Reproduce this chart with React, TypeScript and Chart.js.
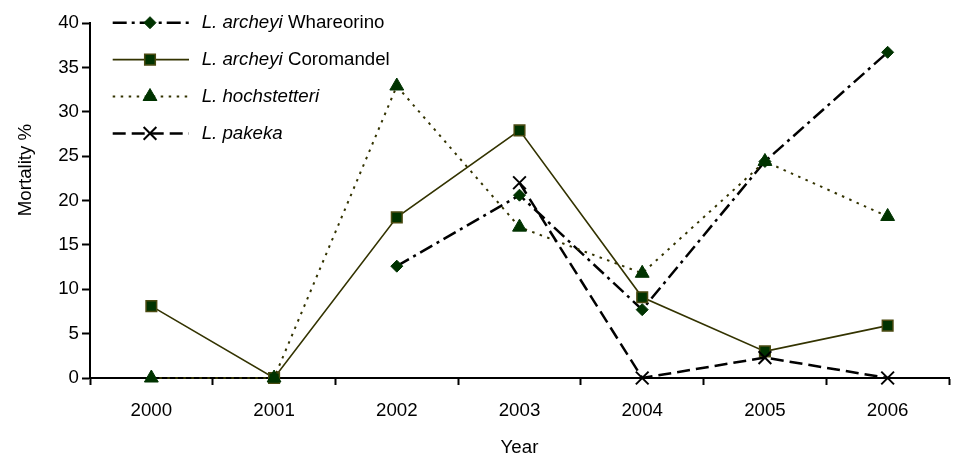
import React, { useEffect, useRef } from 'react';
import { Chart, registerables } from 'chart.js';

Chart.register(...registerables);

// ---------- data ----------
const years: string[] = ['2000', '2001', '2002', '2003', '2004', '2005', '2006'];
const whareorino: (number | null)[] = [null, null, 12.6, 20.6, 7.7, 24.4, 36.7];
const coromandel: (number | null)[] = [8.1, 0, 18.1, 27.9, 9.1, 3.0, 5.9];
const hochstetteri: (number | null)[] = [0, 0, 32.9, 17.0, 11.8, 24.4, 18.2];
const pakeka: (number | null)[] = [null, null, null, 22.0, 0, 2.3, 0];
const yTickValues: number[] = [0, 5, 10, 15, 20, 25, 30, 35, 40];
const italicNames: string[] = ['L. archeyi', 'L. archeyi', 'L. hochstetteri', 'L. pakeka'];
const plainNames: string[] = [' Whareorino', ' Coromandel', '', ''];
const yTitle = 'Mortality %';
const xTitle = 'Year';

const FONT = '"Liberation Sans", Arial, Helvetica, sans-serif';
const FS = 18.7;
const GREEN = '#003300';
const OLIVE = '#333300';

type Style = {
  line: string;
  width: number;
  dash: number[];
  point: string;
  radius: number;
  fill: string;
  stroke: string;
  pointBorder: number;
};

const styles: Style[] = [
  { line: '#000000', width: 2.5, dash: [14, 5, 3, 5], point: 'rectRot', radius: 6, fill: GREEN, stroke: GREEN, pointBorder: 1 },
  { line: OLIVE, width: 1.6, dash: [], point: 'rect', radius: 7.5, fill: GREEN, stroke: '#4a4a10', pointBorder: 1.5 },
  { line: OLIVE, width: 2, dash: [2.5, 5.5], point: 'triangle', radius: 8, fill: GREEN, stroke: GREEN, pointBorder: 1 },
  { line: '#000000', width: 2.5, dash: [13, 6], point: 'crossRot', radius: 9, fill: '#000000', stroke: '#000000', pointBorder: 2 },
];

function drawMarker(ctx: CanvasRenderingContext2D, s: Style, x: number, y: number) {
  ctx.save();
  ctx.setLineDash([]);
  ctx.fillStyle = s.fill;
  ctx.strokeStyle = s.stroke;
  ctx.lineWidth = s.pointBorder;
  const r = s.radius;
  ctx.beginPath();
  if (s.point === 'rectRot') {
    ctx.moveTo(x, y - r);
    ctx.lineTo(x + r, y);
    ctx.lineTo(x, y + r);
    ctx.lineTo(x - r, y);
    ctx.closePath();
    ctx.fill();
    ctx.stroke();
  } else if (s.point === 'rect') {
    const h = r * Math.SQRT1_2;
    ctx.rect(x - h, y - h, 2 * h, 2 * h);
    ctx.fill();
    ctx.stroke();
  } else if (s.point === 'triangle') {
    for (let k = 0; k < 3; k++) {
      const a = (k * 2 * Math.PI) / 3;
      const px = x + Math.sin(a) * r;
      const py = y - Math.cos(a) * r;
      if (k === 0) ctx.moveTo(px, py);
      else ctx.lineTo(px, py);
    }
    ctx.closePath();
    ctx.fill();
    ctx.stroke();
  } else if (s.point === 'crossRot') {
    const d = r * Math.SQRT1_2;
    ctx.moveTo(x - d, y - d);
    ctx.lineTo(x + d, y + d);
    ctx.moveTo(x - d, y + d);
    ctx.lineTo(x + d, y - d);
    ctx.stroke();
  }
  ctx.restore();
}

const overlayPlugin = {
  id: 'overlay',
  afterDraw(chart: any) {
    const ctx: CanvasRenderingContext2D = chart.ctx;
    const area = chart.chartArea;
    ctx.save();
    ctx.fillStyle = '#000000';
    ctx.font = `${FS}px ${FONT}`;
    ctx.textBaseline = 'middle';
    ctx.textAlign = 'center';
    // y title
    ctx.save();
    ctx.translate(17.7, 162);
    ctx.rotate(-Math.PI / 2);
    ctx.fillText(yTitle, 0, 0);
    ctx.restore();
    // x title
    ctx.fillText(xTitle, (area.left + area.right) / 2, 440);

    // legend
    const top = area.top - 0.3;
    const gap = 36.9;
    const lx0 = area.left + 22.7;
    const lx1 = area.left + 99;
    const mx = area.left + 60;
    const tx = area.left + 111.7;
    styles.forEach((s, i) => {
      const y = top + i * gap;
      ctx.save();
      ctx.strokeStyle = s.line;
      ctx.lineWidth = s.width;
      ctx.setLineDash(s.dash);
      ctx.beginPath();
      ctx.moveTo(lx0, y);
      ctx.lineTo(lx1, y);
      ctx.stroke();
      ctx.restore();
      drawMarker(ctx, s, mx, y);
      ctx.textAlign = 'left';
      ctx.font = `italic ${FS}px ${FONT}`;
      ctx.fillText(italicNames[i], tx, y);
      const w = ctx.measureText(italicNames[i]).width;
      ctx.font = `${FS}px ${FONT}`;
      ctx.fillText(plainNames[i], tx + w, y);
    });
    ctx.restore();
  },
};

export default function App() {
  const canvasRef = useRef<HTMLCanvasElement | null>(null);

  useEffect(() => {
    if (!canvasRef.current) return;
    const seriesData = [whareorino, coromandel, hochstetteri, pakeka];
    const labels = italicNames.map((n, i) => n + plainNames[i]);
    const datasets = styles.map((s, i) => ({
      label: labels[i],
      data: seriesData[i],
      borderColor: s.line,
      borderWidth: s.width,
      borderDash: s.dash,
      pointStyle: s.point,
      pointRadius: s.radius,
      pointBackgroundColor: s.fill,
      pointBorderColor: s.stroke,
      pointBorderWidth: s.pointBorder,
      backgroundColor: s.fill,
      fill: false,
      tension: 0,
      spanGaps: false,
      clip: false as any,
      order: 4 - i,
    }));

    const chart = new Chart(canvasRef.current, {
      type: 'line',
      data: { labels: years, datasets: datasets as any },
      plugins: [overlayPlugin],
      options: {
        animation: false,
        responsive: false,
        devicePixelRatio: 1,
        layout: { padding: { top: 15, right: 2, left: 0, bottom: 0 } },
        plugins: {
          legend: { display: false },
          tooltip: { enabled: false },
          title: { display: false },
        },
        scales: {
          x: {
            type: 'category',
            offset: true,
            grid: {
              display: true,
              offset: true,
              drawOnChartArea: false,
              drawTicks: true,
              tickLength: 7,
              tickWidth: 2,
              tickColor: '#000000',
              color: '#000000',
            },
            border: { display: true, color: '#000000', width: 2 },
            ticks: {
              color: '#000000',
              font: { family: FONT, size: FS },
              padding: 15,
              maxRotation: 0,
              autoSkip: false,
            },
            afterFit: (scale: any) => {
              scale.height = 75;
            },
          },
          y: {
            type: 'linear',
            min: 0,
            max: 40,
            afterBuildTicks: (scale: any) => {
              scale.ticks = yTickValues.map((v) => ({ value: v }));
            },
            grid: {
              display: true,
              drawOnChartArea: false,
              drawTicks: true,
              tickLength: 8,
              tickWidth: 2,
              tickColor: '#000000',
              color: '#000000',
            },
            border: { display: true, color: '#000000', width: 2 },
            ticks: {
              color: '#000000',
              font: { family: FONT, size: FS },
              padding: 3,
            },
            afterFit: (scale: any) => {
              scale.width = 82;
            },
          },
        },
      },
    });
    return () => chart.destroy();
  }, []);

  return (
    <div style={{ width: 952, height: 445 }}>
      <canvas ref={canvasRef} width={952} height={445} style={{ display: 'block' }} />
    </div>
  );
}
